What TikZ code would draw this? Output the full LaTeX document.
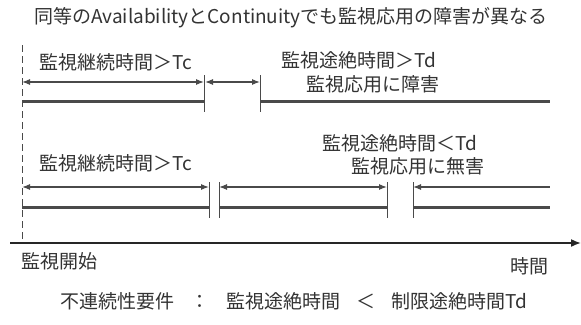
\documentclass[tikz,border=0pt]{standalone}
\usepackage{fontspec}
\newfontfamily\jp{Noto Sans CJK JP}
\usetikzlibrary{arrows.meta}
\definecolor{txt}{HTML}{333333}
\definecolor{ln}{HTML}{4A4A4A}
\begin{document}
\begin{tikzpicture}[x=1pt,y=-1pt,
  lbl/.style={font=\jp\fontsize{19pt}{22pt}\selectfont, text=txt, inner sep=0pt},
  tip/.style={Latex[length=8pt,width=6pt]},
  span/.style={draw=ln, line width=1.1pt, {Latex[length=8pt,width=6pt]}-{Latex[length=8pt,width=6pt]}},
  lspan/.style={draw=ln, line width=1.1pt, {Latex[length=8pt,width=6pt]}-},
  bar/.style={draw=ln, line width=3pt},
  tick/.style={draw=ln, line width=1pt},
  startline/.style={draw=ln, line width=0.8pt, dash pattern=on 7pt off 4pt},
  axis/.style={draw=black!85, line width=1.6pt, -{Latex[length=10pt,width=8pt]}}]
\useasboundingbox (0,0) rectangle (581,324);
% title
\node[lbl] (title) at (291,18) {同等のAvailabilityとContinuityでも監視応用の障害が異なる};
% start line
\coordinate (s0) at (22,45);
\coordinate (s1) at (22,243);
\draw[startline] (s0) -- (s1);
% row 1
\node[lbl] (a) at (116,62) {監視継続時間＞Tc};
\node[lbl] (b) at (359,60) {監視途絶時間＞Td};
\node[lbl] (c) at (373,84) {監視応用に障害};
\coordinate (r1t1a) at (204,75); \coordinate (r1t1b) at (204,112);
\coordinate (r1t2a) at (260,75); \coordinate (r1t2b) at (260,112);
\draw[tick] (r1t1a) -- (r1t1b);
\draw[tick] (r1t2a) -- (r1t2b);
\coordinate (r1a0) at (22,82); \coordinate (r1a1) at (204,82);
\coordinate (r1a2) at (205,82); \coordinate (r1a3) at (260,82);
\draw[span] (r1a0) -- (r1a1);
\draw[span] (r1a2) -- (r1a3);
\coordinate (r1l0) at (22,101); \coordinate (r1l1) at (204,101);
\coordinate (r1l2) at (260,101); \coordinate (r1l3) at (550,101);
\draw[bar] (r1l0) -- (r1l1);
\draw[bar] (r1l2) -- (r1l3);
% row 2
\node[lbl] (d) at (116,163) {監視継続時間＞Tc};
\node[lbl] (e) at (400,143) {監視途絶時間＜Td};
\node[lbl] (f) at (418,166) {監視応用に無害};
\coordinate (r2t1a) at (209,182); \coordinate (r2t1b) at (209,218);
\coordinate (r2t2a) at (219,182); \coordinate (r2t2b) at (219,218);
\coordinate (r2t3a) at (387,182); \coordinate (r2t3b) at (387,218);
\coordinate (r2t4a) at (413,182); \coordinate (r2t4b) at (413,218);
\draw[tick] (r2t1a) -- (r2t1b);
\draw[tick] (r2t2a) -- (r2t2b);
\draw[tick] (r2t3a) -- (r2t3b);
\draw[tick] (r2t4a) -- (r2t4b);
\coordinate (r2a0) at (22,187); \coordinate (r2a1) at (209,187);
\coordinate (r2a2) at (219,187); \coordinate (r2a3) at (387,187);
\coordinate (r2a4) at (413,187); \coordinate (r2a5) at (550,187);
\draw[span] (r2a0) -- (r2a1);
\draw[span] (r2a2) -- (r2a3);
\draw[lspan] (r2a4) -- (r2a5);
\coordinate (r2l0) at (22,207); \coordinate (r2l1) at (209,207);
\coordinate (r2l2) at (219,207); \coordinate (r2l3) at (387,207);
\coordinate (r2l4) at (413,207); \coordinate (r2l5) at (550,207);
\draw[bar] (r2l0) -- (r2l1);
\draw[bar] (r2l2) -- (r2l3);
\draw[bar] (r2l4) -- (r2l5);
% time axis
\coordinate (ax0) at (10,243);
\coordinate (ax1) at (581,243);
\draw[axis] (ax0) -- (ax1);
\node[lbl, anchor=west] (start) at (21,261) {監視開始};
\node[lbl] (time) at (529,266) {時間};
% requirement
\node[lbl] (req) at (294,301) {不連続性要件\hspace{0.85em}：\hspace{0.85em}監視途絶時間\hspace{0.85em}＜\hspace{0.85em}制限途絶時間Td};
\end{tikzpicture}
\end{document}
